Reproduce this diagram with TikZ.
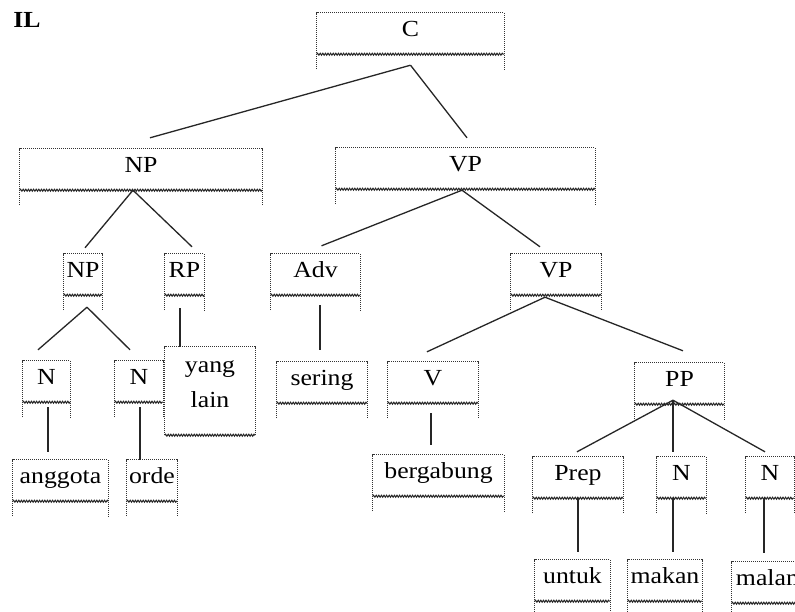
\documentclass[tikz,border=0pt]{standalone}
\usepackage{fontspec}
\setmainfont{Liberation Serif}[FakeStretch=1.12]
\usetikzlibrary{decorations.pathmorphing}

\begin{document}
\begin{tikzpicture}[x=1pt, y=-1pt,
    tbox/.style={rectangle, inner xsep=0pt, inner ysep=3.5pt, text height=20pt, text depth=14pt, font=\fontsize{23}{35}\selectfont},
    dotline/.style={line width=1.3pt, dash pattern=on 1pt off 1pt, black!80},
    wavy/.style={line width=1pt, black!85, decorate, decoration={snake, amplitude=1pt, segment length=2.6pt}},
    branch/.style={line width=1.3pt, black!85}]
  \useasboundingbox (0,0) rectangle (795,611);
  \clip (0,0) rectangle (795,611);

  \node[font=\fontsize{23}{28}\selectfont\bfseries] (il) at (27,20) {IL};

  % boxes
  \node[tbox, minimum width=187pt] (c) at (410.5,33.5) {C};
  \node[tbox, minimum width=242pt] (np) at (141,169.5) {NP};
  \node[tbox, minimum width=259pt] (vp) at (465.5,168.5) {VP};
  \node[tbox, minimum width=38pt] (np2) at (83,274.5) {NP};
  \node[tbox, minimum width=39pt] (rp) at (184.5,274.5) {RP};
  \node[tbox, minimum width=89pt] (adv) at (315.5,274.5) {Adv};
  \node[tbox, minimum width=90pt] (vp2) at (556,274.5) {VP};
  \node[tbox, minimum width=47pt] (n1) at (46.5,381.5) {N};
  \node[tbox, minimum width=48pt] (n2) at (139,381.5) {N};
  \node[rectangle, inner sep=0pt, minimum width=90pt, minimum height=88pt,
        label={[align=center, yshift=7pt, font=\fontsize{23}{35}\selectfont]center:yang\\lain}] (yl) at (210,391) {};
  \node[tbox, minimum width=90pt] (sering) at (322,382.5) {sering};
  \node[tbox, minimum width=90pt] (v) at (433,382.5) {V};
  \node[tbox, minimum width=89pt] (pp) at (679.5,383.5) {PP};
  \node[tbox, minimum width=95pt] (anggota) at (60.5,480.5) {anggota};
  \node[tbox, minimum width=50pt] (orde) at (152,480.5) {orde};
  \node[tbox, minimum width=131pt] (bergabung) at (438.5,475.5) {bergabung};
  \node[tbox, minimum width=90pt] (prep) at (578,477.5) {Prep};
  \node[tbox, minimum width=49pt] (n3) at (681.5,477.5) {N};
  \node[tbox, minimum width=48pt] (n4) at (770,477.5) {N};
  \node[tbox, minimum width=75pt] (untuk) at (572.5,580.5) {untuk};
  \node[tbox, minimum width=74pt] (makan) at (665,580.5) {makan};
  \node[tbox, minimum width=78pt] (malam) at (771,582.5) {malam};

  \foreach \n in {c,np,vp,np2,rp,adv,vp2,n1,n2,sering,v,pp,anggota,orde,bergabung,prep,n3,n4,untuk,makan,malam} {
    \draw[dotline] ([yshift=-15pt]\n.south west) -- (\n.north west) -- (\n.north east) -- ([yshift=-15pt]\n.south east);
    \draw[wavy] (\n.south west) -- (\n.south east);
  }
  \draw[dotline] (yl.south west) -- (yl.north west) -- (yl.north east) -- (yl.south east);
  \draw[wavy] (yl.south west) -- (yl.south east);

  % branches
  \draw[branch] ([yshift=-11pt]c.south) -- ([xshift=9pt,yshift=11pt]np.north);
  \draw[branch] ([yshift=-11pt]c.south) -- ([xshift=1.5pt,yshift=10pt]vp.north);
  \draw[branch] ([xshift=-8pt]np.south) -- ([xshift=2pt,yshift=6pt]np2.north);
  \draw[branch] ([xshift=-8pt]np.south) -- ([xshift=7.5pt,yshift=7pt]rp.north);
  \draw[branch] ([xshift=-3.5pt,yshift=-1pt]vp.south) -- ([xshift=6pt,yshift=8pt]adv.north);
  \draw[branch] ([xshift=-3.5pt,yshift=-1pt]vp.south) -- ([xshift=-16pt,yshift=7pt]vp2.north);
  \draw[branch] ([xshift=4pt,yshift=-12pt]np2.south) -- ([xshift=-8.5pt,yshift=11pt]n1.north);
  \draw[branch] ([xshift=4pt,yshift=-12pt]np2.south) -- ([xshift=-9pt,yshift=11pt]n2.north);
  \draw[branch] ([xshift=-4.5pt,yshift=-13pt]rp.south) -- ([xshift=-30pt]yl.north);
  \draw[branch] ([xshift=4.5pt,yshift=-10pt]adv.south) -- ([xshift=-2pt,yshift=12pt]sering.north);
  \draw[branch] ([xshift=-11pt,yshift=-2pt]vp2.south) -- ([xshift=-6pt,yshift=10pt]v.north);
  \draw[branch] ([xshift=-11pt,yshift=-2pt]vp2.south) -- ([xshift=3.5pt,yshift=12pt]pp.north);
  \draw[branch] ([xshift=1.5pt,yshift=-5pt]n1.south) -- ([xshift=-12.5pt,yshift=8pt]anggota.north);
  \draw[branch] ([xshift=1pt,yshift=-5pt]n2.south) -- ([xshift=-12pt]orde.north);
  \draw[branch] ([xshift=-2pt,yshift=-10pt]v.south) -- ([xshift=-7.5pt,yshift=10pt]bergabung.north);
  \draw[branch] ([xshift=-6.5pt,yshift=4pt]pp.south) -- ([xshift=-1pt,yshift=5pt]prep.north);
  \draw[branch] ([xshift=-6.5pt,yshift=4pt]pp.south) -- ([xshift=-8.5pt,yshift=5pt]n3.north);
  \draw[branch] ([xshift=-6.5pt,yshift=4pt]pp.south) -- ([xshift=-5pt,yshift=5pt]n4.north);
  \draw[branch] (prep.south) -- ([xshift=5.5pt,yshift=8pt]untuk.north);
  \draw[branch] ([xshift=-8.5pt]n3.south) -- ([xshift=8pt,yshift=8pt]makan.north);
  \draw[branch] ([xshift=-6pt]n4.south) -- ([xshift=-7pt,yshift=9pt]malam.north);
\end{tikzpicture}
\end{document}
